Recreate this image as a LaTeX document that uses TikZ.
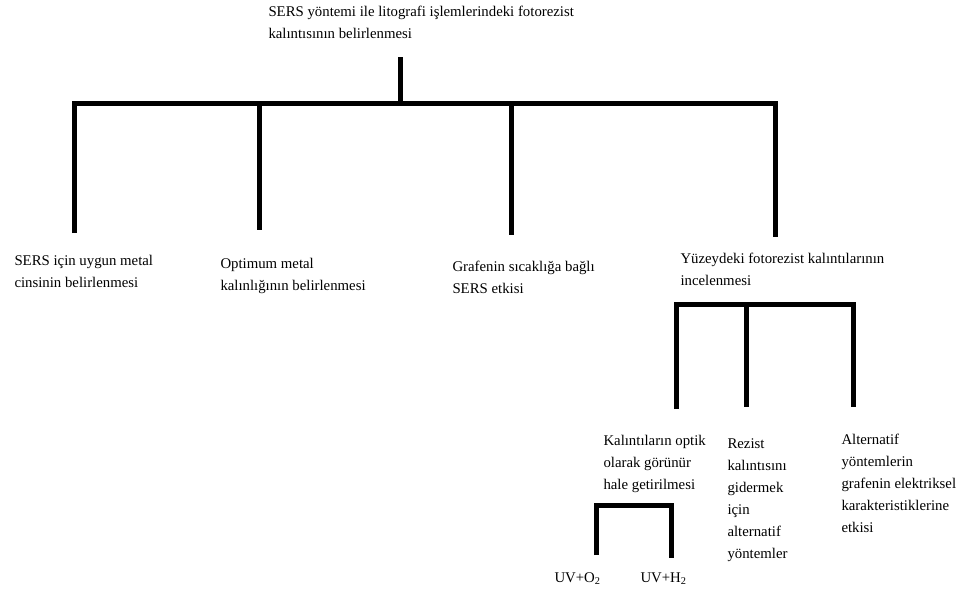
\documentclass[tikz,border=0pt]{standalone}
\usepackage{fontspec}
\setmainfont{Liberation Serif}

\begin{document}
\begin{tikzpicture}[x=1pt,y=-1pt,line width=5pt,
	every node/.style={inner sep=0pt,anchor=base west,align=left,
		font=\fontsize{14.8}{21.5}\selectfont},
	low/.style={font=\fontsize{14.8}{22}\selectfont}]
	\useasboundingbox (0,0) rectangle (962,595);

	\node (root) at (266,38) {SERS yöntemi ile litografi işlemlerindeki fotorezist\\kalıntısının belirlenmesi};
	\node (n_1) at (12,287) {SERS için uygun metal\\cinsinin belirlenmesi};
	\node (n_2) at (218,290) {Optimum metal\\kalınlığının belirlenmesi};
	\node (n_3) at (450,293) {Grafenin sıcaklığa bağlı\\SERS etkisi};
	\node (n_4) at (678,285) {Yüzeydeki fotorezist kalıntılarının\\incelenmesi};
	\node[low] (n_41) at (601,489) {Kalıntıların optik\\olarak görünür\\hale getirilmesi};
	\node[low] (n_42) at (725,558) {Rezist\\kalıntısını\\gidermek\\için\\alternatif\\yöntemler};
	\node[low] (n_43) at (839,532) {Alternatif\\yöntemlerin\\grafenin elektriksel\\karakteristiklerine\\etkisi};
	\node (uv_1) at (552,582) {UV+O\textsubscript{2}};
	\node (uv_2) at (638,582) {UV+H\textsubscript{2}};

	\coordinate (t_0) at (400,57);
	\coordinate (j_0) at (400,103);
	\coordinate (j_1) at (74,103);
	\coordinate (j_2) at (259,103);
	\coordinate (j_3) at (511,103);
	\coordinate (j_4) at (775,103);
	\coordinate (e_1) at (74,233);
	\coordinate (e_2) at (259,230);
	\coordinate (e_3) at (511,235);
	\coordinate (e_4) at (775,237);

	\coordinate (k_1) at (676,304);
	\coordinate (k_2) at (746,304);
	\coordinate (k_3) at (853,304);
	\coordinate (f_1) at (676,409);
	\coordinate (f_2) at (746,407);
	\coordinate (f_3) at (853,407);

	\coordinate (m_1) at (596,505);
	\coordinate (m_2) at (671,505);
	\coordinate (g_1) at (596,555);
	\coordinate (g_2) at (671,558);

	\draw (t_0) -- (j_0);
	\draw (e_1) -- (j_1) -- (j_4) -- (e_4);
	\draw (j_2) -- (e_2);
	\draw (j_3) -- (e_3);

	\draw (f_1) -- (k_1) -- (k_3) -- (f_3);
	\draw (k_2) -- (f_2);

	\draw (g_1) -- (m_1) -- (m_2) -- (g_2);
\end{tikzpicture}
\end{document}
